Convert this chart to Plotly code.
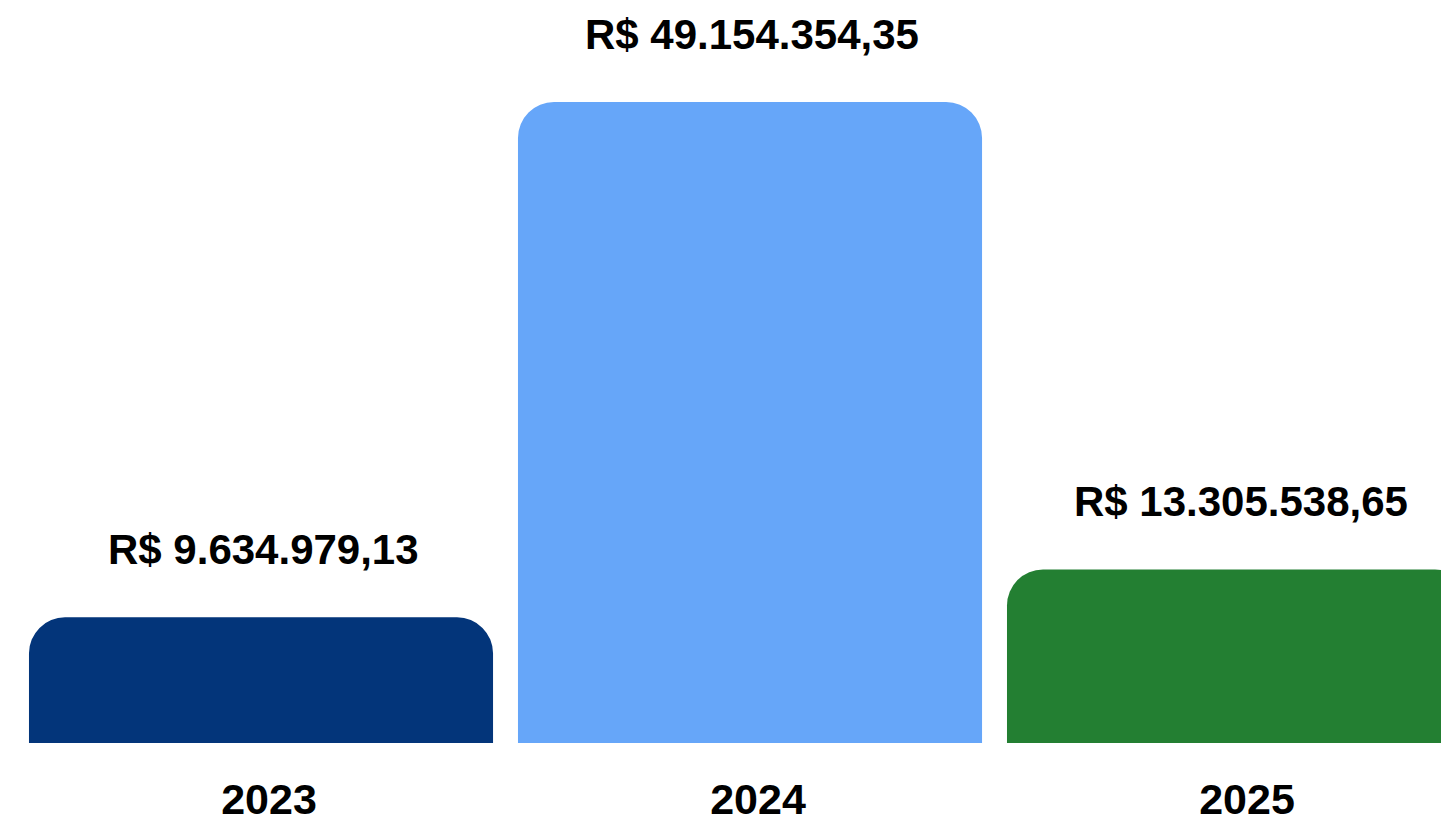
import plotly.graph_objects as go

years = ["2023", "2024", "2025"]
values = [9634979.13, 49154354.35, 13305538.65]
colors = ["#03357A", "#66A6F9", "#237F32"]


def brl(v):
    s = f"{v:,.2f}"  # 9,634,979.13
    s = s.replace(",", "X").replace(".", ",").replace("X", ".")
    return "R$ " + s


labels = [brl(v) for v in values]

FONT = "Liberation Sans"

fig = go.Figure(
    go.Bar(
        x=years,
        y=values,
        marker=dict(color=colors, line=dict(width=0)),
        hoverinfo="skip",
    )
)

for i, (v, lab) in enumerate(zip(values, labels)):
    fig.add_annotation(
        x=i, y=v, xref="x", yref="y", text=f"<b>{lab}</b>", showarrow=False,
        yanchor="bottom", yshift=42, xshift=2,
        font=dict(family=FONT, size=42, color="#000000"),
    )

# page has an 8px body margin; figure occupies 1441x813 starting at (8, 8)
fig.update_layout(
    width=1441, height=813,
    margin=dict(l=0, r=0, t=0, b=78, pad=0),
    paper_bgcolor="#FFFFFF", plot_bgcolor="#FFFFFF",
    bargap=0.051,
    barcornerradius=36,
    showlegend=False,
    font=dict(family=FONT, color="#000000"),
)
fig.update_xaxes(
    type="category",
    range=[-0.5174, 2.4294],
    showgrid=False, zeroline=False, showline=False, ticks="",
    tickfont=dict(family=FONT, size=43, color="#000000", weight="bold"),
    ticklabelstandoff=27,
    ticklabelshift=8,
    automargin=False,
    fixedrange=True,
)
fig.update_yaxes(
    range=[0, 56362740],
    visible=False, showgrid=False, zeroline=False,
    automargin=False, fixedrange=True,
)

fig.write_html("out.html", config={"displayModeBar": False})
